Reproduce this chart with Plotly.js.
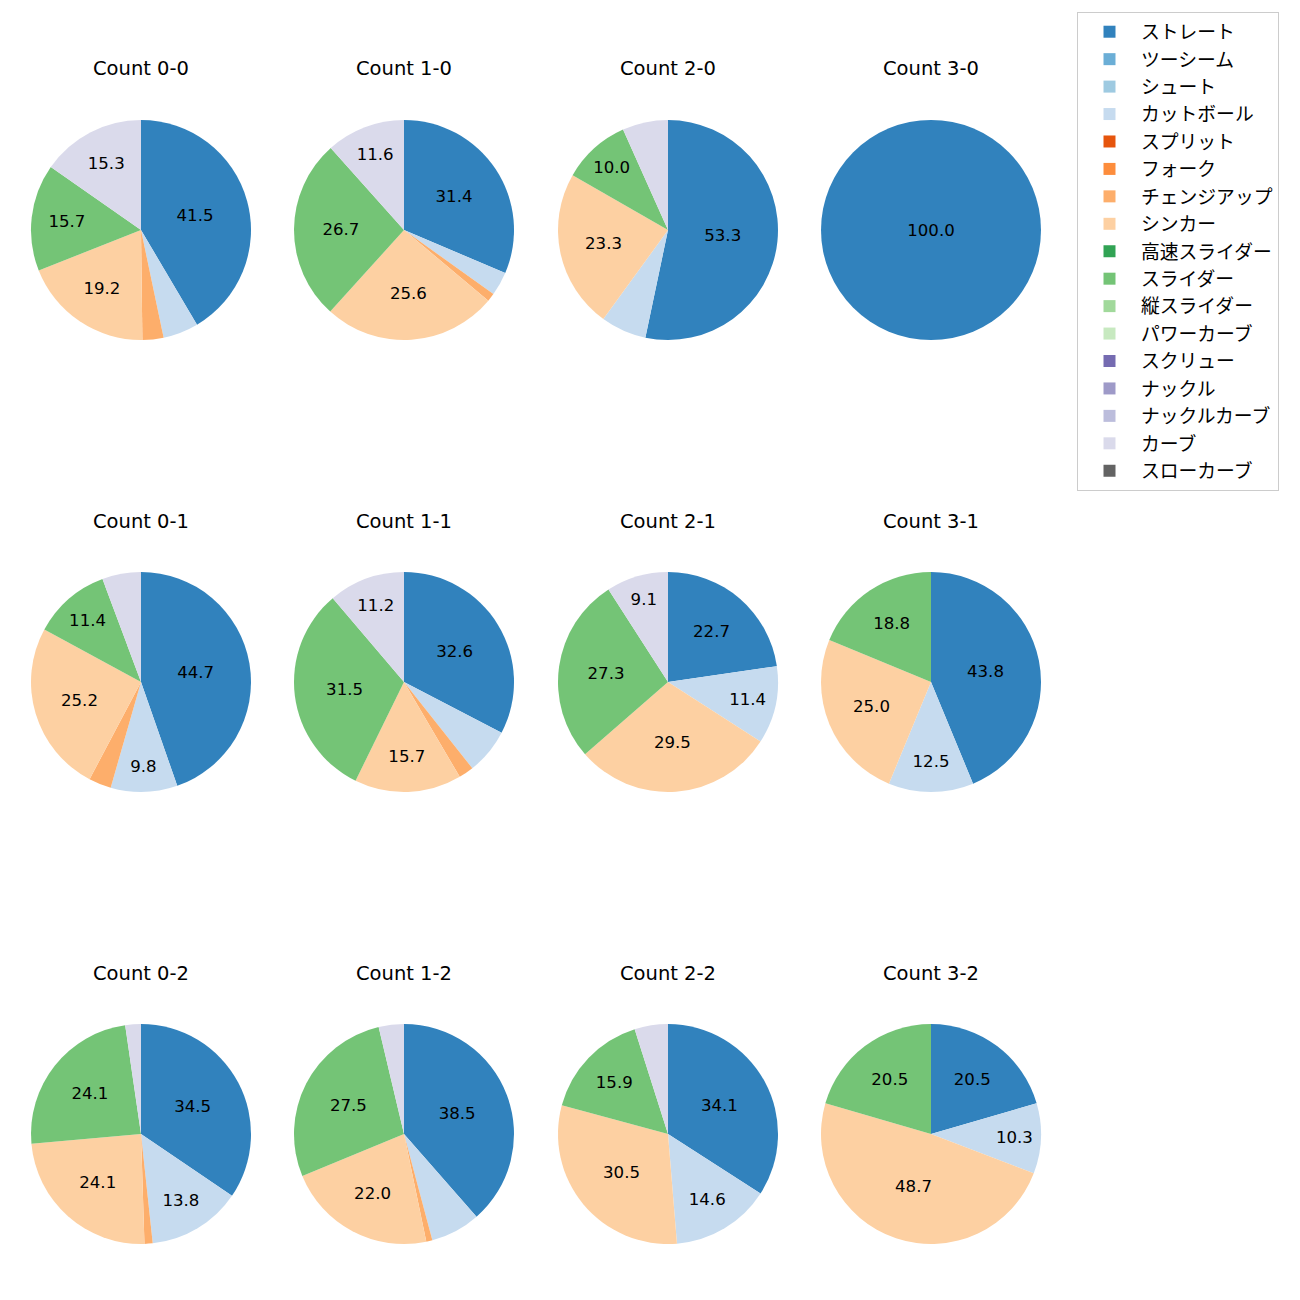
<!DOCTYPE html>
<html>
<head>
<meta charset="utf-8">
<script src="https://cdn.plot.ly/plotly-3.0.1.min.js"></script>
<style>body{margin:0;padding:0;background:#fff;}#chart{width:1300px;height:1300px;}</style>
</head>
<body>
<div id="chart"></div>
<script>
// Pitch types (legend order) and their colours
const pitchTypes = ["ストレート","ツーシーム","シュート","カットボール","スプリット","フォーク","チェンジアップ","シンカー","高速スライダー","スライダー","縦スライダー","パワーカーブ","スクリュー","ナックル","ナックルカーブ","カーブ","スローカーブ"];
const pitchColors = ["#3182bd","#6baed6","#9ecae1","#c6dbef","#e6550d","#fd8d3c","#fdae6b","#fdd0a2","#31a354","#74c476","#a1d99b","#c7e9c0","#756bb1","#9e9ac8","#bcbddc","#dadaeb","#636363"];

// Counts (panel order)
const counts = ["0-0","1-0","2-0","3-0","0-1","1-1","2-1","3-1","0-2","1-2","2-2","3-2"];

// Percentages per pitch type across counts
const straight = [41.5, 31.4, 53.3, 100.0, 44.7, 32.6, 22.7, 43.8, 34.5, 38.5, 34.1, 20.5];
const cutter   = [5.2, 3.5, 6.7, 0, 9.8, 6.7, 11.4, 12.5, 13.8, 7.3, 14.6, 10.3];
const changeup = [3.1, 1.2, 0, 0, 3.3, 2.2, 0, 0, 1.2, 0.9, 0, 0];
const sinker   = [19.2, 25.6, 23.3, 0, 25.2, 15.7, 29.5, 25.0, 24.1, 22.0, 30.5, 48.7];
const slider   = [15.7, 26.7, 10.0, 0, 11.4, 31.5, 27.3, 18.8, 24.1, 27.5, 15.9, 20.5];
const curve    = [15.3, 11.6, 6.7, 0, 5.7, 11.2, 9.1, 0, 2.3, 3.7, 4.9, 0];

const seriesByType = {"ストレート": straight, "カットボール": cutter, "チェンジアップ": changeup, "シンカー": sinker, "スライダー": slider, "カーブ": curve};

const LATIN = "DejaVu Sans, Noto Sans CJK JP, sans-serif";
const CJK = "Noto Sans CJK JP, sans-serif";
const W = 1300, H = 1300, R = 110;
const colCenters = [141, 404, 668, 931];
const rowCenters = [230, 682, 1134];
const titleOffset = 161;

const traces = [];
const annotations = [];
counts.forEach((c, k) => {
  const col = k % 4, row = Math.floor(k / 4);
  const cx = colCenters[col], cy = rowCenters[row];
  const vals = pitchTypes.map(p => seriesByType[p] ? seriesByType[p][k] : 0);
  const txt = vals.map(v => v >= 8 ? v.toFixed(1) : "");
  traces.push({
    type: "pie",
    labels: pitchTypes,
    values: vals,
    text: txt,
    textinfo: "text",
    textposition: "inside",
    insidetextorientation: "horizontal",
    textfont: {family: LATIN, size: 16.6, color: "#000"},
    marker: {colors: pitchColors, line: {width: 0}},
    sort: false,
    direction: "clockwise",
    rotation: 0,
    showlegend: k === 0,
    hoverinfo: "label+percent",
    domain: {x: [(cx - R) / W, (cx + R) / W], y: [1 - (cy + R) / H, 1 - (cy - R) / H]}
  });
  annotations.push({
    text: "Count " + c, xref: "paper", yref: "paper",
    x: cx / W, y: 1 - (cy - titleOffset) / H,
    xanchor: "center", yanchor: "middle", showarrow: false,
    font: {family: LATIN, size: 19.5, color: "#000"}
  });
});

const layout = {
  width: W, height: H,
  margin: {l: 0, r: 0, t: 0, b: 0},
  paper_bgcolor: "#fff",
  showlegend: true,
  legend: {
    x: 1077 / W, y: 1 - 12 / H, xanchor: "left", yanchor: "top",
    bordercolor: "#cccccc", borderwidth: 1, bgcolor: "#fff",
    font: {family: CJK, size: 18.8, color: "#000"},
    itemwidth: 53,
    traceorder: "normal"
  },
  annotations: annotations
};

Plotly.newPlot("chart", traces, layout, {displayModeBar: false});
</script>
</body>
</html>
